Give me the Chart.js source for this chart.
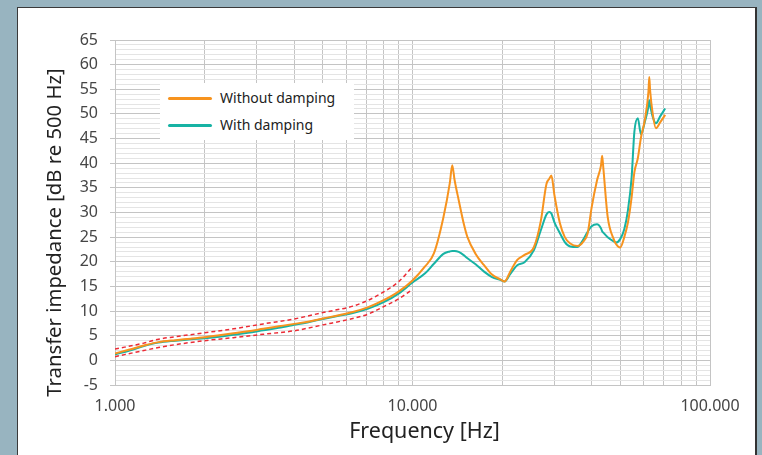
<!DOCTYPE html>
<html>
<head>
<meta charset="utf-8">
<script src="https://cdn.jsdelivr.net/npm/chart.js@4.4.1/dist/chart.umd.min.js"></script>
<style>
    body { margin: 0; width: 762px; height: 455px; overflow: hidden; background: #98b4c0; font-family: 'Noto Sans', sans-serif; }
    #panel { position: absolute; left: 17px; top: 7px; width: 740px; height: 460px; box-sizing: border-box; background: #fff; border: 1px solid #3a3a3a; border-right: 2px solid #333; }
    #myChart { position: absolute; left: 0; top: 0; }
    #legend { position: absolute; left: 160px; top: 83px; width: 194px; height: 57px; background: #fff; }
    .item { position: absolute; left: 0; height: 20px; font-size: 14px; color: #222; }
    .swatch { position: absolute; left: 8px; top: 9px; width: 44px; height: 3px; border-radius: 2px; }
    .lbl { position: absolute; left: 60px; top: 0; white-space: nowrap; line-height: 20px; }
</style>
</head>
<body>
<div id="panel"></div>
<canvas id="myChart" width="762" height="455"></canvas>
<div id="legend"></div>

<script>
// frequency points (Hz) of the two measured curves
const freqHz = [1000, 1120, 1250, 1400, 1600, 1800, 2000, 2240, 2500, 2800, 3150, 3550, 4000, 4500, 5000, 5600, 6300, 7100, 8000, 9000,
    10000, 11000, 11800, 12700, 13350, 13600, 13850, 14300, 14900, 15300, 16300, 17400, 18500, 19800, 20400, 21300, 22500, 23800, 25600, 27000,
    28200, 28800, 29300, 30000, 31300, 32500, 33900, 35800, 37400, 38800, 40000, 41700, 43000, 43400, 43800, 45300, 47600, 48300, 49900, 51500,
    53000, 54500, 55700, 57200, 58600, 60400, 62100, 62500, 62900, 64200, 65800, 68000, 70700];

const withoutDamping = [1.4, 2.2, 3.0, 3.7, 4.1, 4.4, 4.7, 5.1, 5.5, 5.9, 6.4, 6.9, 7.4, 7.9, 8.5, 9.1, 9.8, 10.8, 12.2, 14.0,
    16.2, 19.0, 21.7, 29.0, 36.0, 39.6, 36.6, 32.5, 27.5, 25.0, 21.6, 19.3, 17.4, 16.4, 16.0, 18.0, 20.4, 21.4, 23.0, 28.3,
    35.8, 36.8, 37.5, 33.5, 27.8, 25.0, 23.7, 23.2, 24.0, 25.8, 31.0, 36.5, 39.5, 41.5, 39.0, 29.1, 24.4, 23.6, 22.9, 25.0,
    28.0, 33.0, 38.2, 41.0, 45.2, 48.8, 54.5, 57.5, 54.8, 50.0, 47.1, 48.3, 49.8];

const withDamping = [1.2, 2.0, 2.9, 3.6, 4.0, 4.3, 4.5, 4.8, 5.2, 5.6, 6.1, 6.6, 7.2, 7.8, 8.4, 9.0, 9.6, 10.5, 11.8, 13.6,
    15.8, 17.6, 19.6, 21.6, 22.1, 22.2, 22.2, 22.0, 21.3, 20.7, 19.5, 18.0, 16.9, 16.3, 16.0, 17.5, 19.3, 19.9, 22.4, 26.4,
    29.6, 30.1, 29.8, 28.0, 25.8, 24.0, 23.1, 23.0, 24.4, 26.1, 27.2, 27.6, 26.8, 26.2, 25.9, 25.0, 24.1, 23.9, 24.6, 26.6,
    30.5, 37.0, 46.4, 49.1, 45.9, 48.4, 51.5, 52.8, 51.8, 49.4, 48.1, 49.5, 51.1];

// tolerance band (red dashed)
const tolFreqHz = [1000, 1250, 1400, 1600, 2000, 2500, 3150, 4000, 5000, 6300, 7100, 8000, 9000, 10000];
const tolUpper = [2.3, 3.5, 4.3, 4.8, 5.6, 6.4, 7.4, 8.4, 9.7, 11.0, 12.2, 13.9, 16.0, 19.0];
const tolLower = [0.75, 2.0, 2.6, 3.2, 4.0, 4.6, 5.3, 6.0, 7.2, 8.5, 9.4, 10.9, 12.5, 14.4];

const xLabelValues = [1000, 10000, 100000];
const xTitle = 'Frequency [Hz]';
const yTitle = 'Transfer impedance [dB re 500 Hz]';

window.addEventListener('load', function() {
    drawChart();
});

function toPoints(xs, ys) {
    return xs.map((x, i) => ({ x: x, y: ys[i] }));
}

// axis titles drawn by hand, the original ones sit a bit off centre
const axisTitles = {
    id: 'axisTitles',
    afterDraw: function(chart) {
        var c = chart.ctx;
        var a = chart.chartArea;
        c.save();
        c.fillStyle = '#222';
        c.textAlign = 'center';
        c.textBaseline = 'middle';
        c.font = '21.5px "Noto Sans"';
        c.fillText(xTitle, (a.left + a.right) / 2 + 12, a.bottom + 47);
        c.font = '20.3px "Noto Sans"';
        c.translate(55, (a.top + a.bottom) / 2 + 20);
        c.rotate(-Math.PI / 2);
        c.fillText(yTitle, 0, 0);
        c.restore();
    }
};

function drawChart() {
    const ctx = document.getElementById('myChart');
    const tickFont = { family: 'Noto Sans', size: 16 };

    const chart = new Chart(ctx, {
        type: 'line',
        data: {
            datasets: [{
                label: 'Without damping',
                data: toPoints(freqHz, withoutDamping),
                borderColor: '#f7931e',
                borderWidth: 2,
                pointRadius: 0,
                cubicInterpolationMode: 'monotone'
            }, {
                label: 'With damping',
                data: toPoints(freqHz, withDamping),
                borderColor: '#17b3a4',
                borderWidth: 2,
                pointRadius: 0,
                cubicInterpolationMode: 'monotone'
            }, {
                label: 'upper',
                data: toPoints(tolFreqHz, tolUpper),
                borderColor: '#ec2b35',
                borderWidth: 1.5,
                borderDash: [4, 3],
                pointRadius: 0,
                cubicInterpolationMode: 'monotone'
            }, {
                label: 'lower',
                data: toPoints(tolFreqHz, tolLower),
                borderColor: '#ec2b35',
                borderWidth: 1.5,
                borderDash: [4, 3],
                pointRadius: 0,
                cubicInterpolationMode: 'monotone'
            }]
        },
        options: {
            responsive: false,
            animation: false,
            layout: { padding: { left: 38, right: 52, top: 40, bottom: 8 } },
            plugins: {
                legend: { display: false },
                tooltip: { enabled: false }
            },
            scales: {
                x: {
                    type: 'logarithmic',
                    min: 1000,
                    max: 100000,
                    afterBuildTicks: function(scale) {
                        var t = [];
                        for (var d = 1000; d < 100000; d *= 10) {
                            for (var m = 1; m < 10; m++) t.push({ value: m * d });
                        }
                        t.push({ value: 100000 });
                        scale.ticks = t;
                    },
                    afterFit: function(scale) { scale.height = 62; },
                    ticks: {
                        autoSkip: false,
                        maxRotation: 0,
                        padding: 12,
                        font: tickFont,
                        color: '#454545',
                        callback: function(v) {
                            return xLabelValues.includes(v) ? v.toLocaleString('de-DE') : '';
                        }
                    },
                    grid: { color: '#c4c4c4', drawTicks: false },
                    border: { color: '#c4c4c4' }
                },
                y: {
                    min: -5,
                    max: 65,
                    afterFit: function(scale) { scale.width = 77; },
                    ticks: {
                        stepSize: 1,
                        autoSkip: false,
                        padding: 12,
                        font: tickFont,
                        color: '#454545',
                        callback: function(v) { return v % 5 === 0 ? String(v) : ''; }
                    },
                    grid: {
                        tickLength: 5,
                        color: function(c) { return c.tick && c.tick.value % 5 === 0 ? '#c4c4c4' : '#e4e4e4'; },
                        tickColor: function(c) { return c.tick && c.tick.value % 5 === 0 ? '#c4c4c4' : 'rgba(0,0,0,0)'; }
                    },
                    border: { color: '#c4c4c4' }
                }
            }
        },
        plugins: [axisTitles]
    });

    // legend box (only the two measured curves)
    var legend = document.getElementById('legend');
    var tops = [5, 32];
    for (var i = 0; i < 2; i++) {
        var ds = chart.data.datasets[i];
        var item = document.createElement('div');
        item.className = 'item';
        item.style.top = tops[i] + 'px';
        item.innerHTML = '<span class="swatch" style="background:' + ds.borderColor + '"></span><span class="lbl">' + ds.label + '</span>';
        legend.appendChild(item);
    }
}
</script>
</body>
</html>
